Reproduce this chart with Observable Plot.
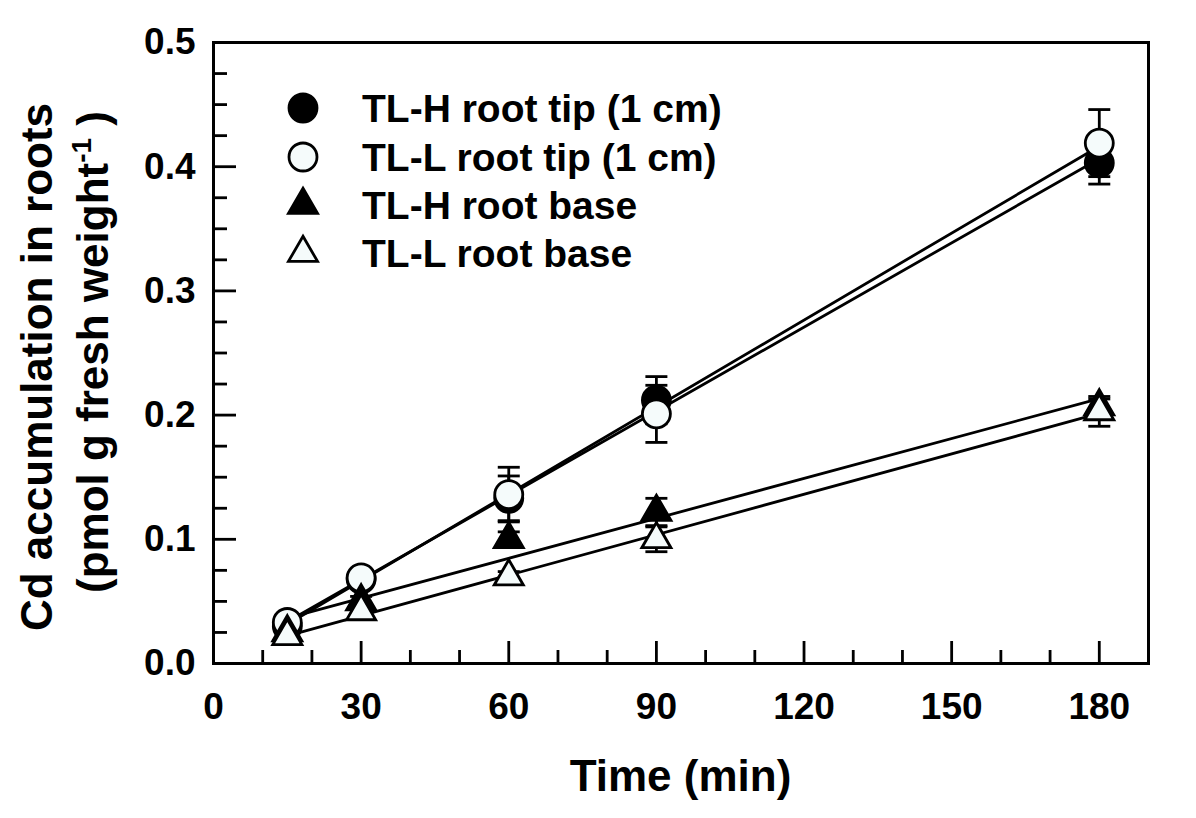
<!DOCTYPE html>
<html><head><meta charset="utf-8">
<script src="https://cdn.jsdelivr.net/npm/d3@7"></script>
<script src="https://cdn.jsdelivr.net/npm/@observablehq/plot@0.6"></script>
<style>
body{margin:0;background:#fff}
#chart{position:relative;width:1196px;height:818px}
</style>
</head><body><div id="chart"></div>
<script>
// ---- data ----
const times = [15, 30, 60, 90, 180];
const seriesNames = ["TL-H root tip (1 cm)", "TL-L root tip (1 cm)", "TL-H root base", "TL-L root base"];
const tlhTip = [0.030, 0.068, 0.133, 0.212, 0.403];
const tlhTipErr = [0.003, 0.004, 0.018, 0.019, 0.017];
const tllTip = [0.033, 0.069, 0.136, 0.201, 0.419];
const tllTipErr = [0.003, 0.004, 0.022, 0.023, 0.027];
const tlhBase = [0.025, 0.050, 0.100, 0.122, 0.207];
const tlhBaseErr = [0.002, 0.004, 0.006, 0.011, 0.006];
const tllBase = [0.022, 0.042, 0.070, 0.100, 0.203];
const tllBaseErr = [0.002, 0.003, 0.004, 0.010, 0.012];
const xMajorTicks = [0, 30, 60, 90, 120, 150, 180];
const xMinorTicks = [10, 20, 40, 50, 70, 80, 100, 110, 130, 140, 160, 170];
const yMajorTicks = [0, 0.1, 0.2, 0.3, 0.4, 0.5];
const yMinorTicks = [0.025, 0.05, 0.075, 0.125, 0.15, 0.175, 0.225, 0.25, 0.275, 0.325, 0.35, 0.375, 0.425, 0.45, 0.475];
const xTitle = "Time (min)";
const yTitle1 = "Cd accumulation in roots";
const yTitle2 = "(pmol g fresh weight";
const yTitleSup = "-1";

// ---- build table ----
const seriesValues = [tlhTip, tllTip, tlhBase, tllBase];
const seriesErrs = [tlhTipErr, tllTipErr, tlhBaseErr, tllBaseErr];
const rows = [];
seriesNames.forEach((s, i) => times.forEach((t, j) => rows.push({
  series: s, time: t, value: seriesValues[i][j], err: seriesErrs[i][j]
})));
const bySeries = s => rows.filter(r => r.series === s);

const styles = [
  {symbol: "circle", fill: "black", r: 14},
  {symbol: "circle", fill: "#f5fbfb", r: 14},
  {symbol: "triangle", fill: "black", r: 10.8},
  {symbol: "triangle", fill: "#f5fbfb", r: 10.8}
];

const capSymbol = {draw(ctx, size) { const h = Math.sqrt(size / Math.PI); ctx.moveTo(-h, 0); ctx.lineTo(h, 0); }};

const W = 1196, H = 818, mL = 213, mR = 48, mT = 42, mB = 155;
const fw = W - mL - mR, fh = H - mT - mB;
const font = "'Liberation Sans', Arial, Helvetica, sans-serif";
const SW = 2.8;

const marks = [
  Plot.ruleX(xMinorTicks, {x: d => d, insetTop: fh - 13, strokeWidth: SW}),
  Plot.ruleX(xMajorTicks, {x: d => d, insetTop: fh - 22, strokeWidth: SW}),
  Plot.ruleY(yMinorTicks, {y: d => d, insetRight: fw - 14, strokeWidth: SW}),
  Plot.ruleY(yMajorTicks, {y: d => d, insetRight: fw - 23, strokeWidth: SW}),
  Plot.axisX(xMajorTicks, {tickSize: 0, tickPadding: 29, fontSize: 37, fontWeight: "bold", label: null, tickFormat: d => String(d)}),
  Plot.axisY(yMajorTicks, {tickSize: 0, tickPadding: 18, fontSize: 37, fontWeight: "bold", label: null, tickFormat: d3.format(".1f")}),
  Plot.linearRegressionY(rows, {x: "time", y: "value", z: "series", stroke: "black", strokeWidth: SW, ci: 0}),
  Plot.ruleX(rows, {x: "time", y1: d => d.value - d.err, y2: d => d.value + d.err, strokeWidth: SW}),
  Plot.dot(rows, {x: "time", y: d => d.value + d.err, symbol: capSymbol, r: 11, stroke: "black", strokeWidth: SW, fill: "none"}),
  Plot.dot(rows, {x: "time", y: d => d.value - d.err, symbol: capSymbol, r: 11, stroke: "black", strokeWidth: SW, fill: "none"})
];
seriesNames.forEach((s, i) => {
  marks.push(Plot.dot(bySeries(s), {x: "time", y: "value", symbol: styles[i].symbol, r: styles[i].r, fill: styles[i].fill, stroke: "black", strokeWidth: SW}));
});
marks.push(Plot.frame({stroke: "black", strokeWidth: 3}));

const chart = Plot.plot({
  width: W, height: H,
  marginLeft: mL, marginRight: mR, marginTop: mT, marginBottom: mB,
  x: {domain: [0, 190]},
  y: {domain: [0, 0.5]},
  style: {background: "white", color: "black", fontFamily: font},
  marks
});
document.getElementById("chart").appendChild(chart);

// ---- titles and legend ----
const svg = d3.select(chart);
svg.append("text").attr("x", mL + fw / 2).attr("y", 791)
  .attr("text-anchor", "middle").attr("font-size", 44).attr("font-weight", "bold")
  .attr("font-family", font).attr("fill", "black").text(xTitle);
svg.append("text").attr("transform", "translate(52,367) rotate(-90)")
  .attr("text-anchor", "middle").attr("font-size", 44).attr("font-weight", "bold")
  .attr("font-family", font).attr("fill", "black").text(yTitle1);
const t2 = svg.append("text").attr("transform", "translate(108,352) rotate(-90)")
  .attr("text-anchor", "middle").attr("font-size", 44).attr("font-weight", "bold")
  .attr("font-family", font).attr("fill", "black");
t2.append("tspan").text(yTitle2);
t2.append("tspan").attr("font-size", 28).attr("dy", -17).text(yTitleSup);
t2.append("tspan").attr("dy", 17).text(" )");

const legendRows = [108, 157, 205, 253];
const lg = svg.append("g");
seriesNames.forEach((s, i) => {
  const st = styles[i];
  const type = st.symbol === "circle" ? d3.symbolCircle : d3.symbolTriangle;
  lg.append("path").attr("d", d3.symbol(type, Math.PI * st.r * st.r)())
    .attr("transform", `translate(303,${legendRows[i]})`)
    .attr("fill", st.fill).attr("stroke", "black").attr("stroke-width", SW);
  lg.append("text").attr("x", 362).attr("y", legendRows[i]).attr("dy", "0.36em")
    .attr("text-anchor", "start")
    .attr("font-size", 39).attr("font-weight", "bold").attr("font-family", font)
    .attr("fill", "black").text(s);
});
</script>
</body></html>
